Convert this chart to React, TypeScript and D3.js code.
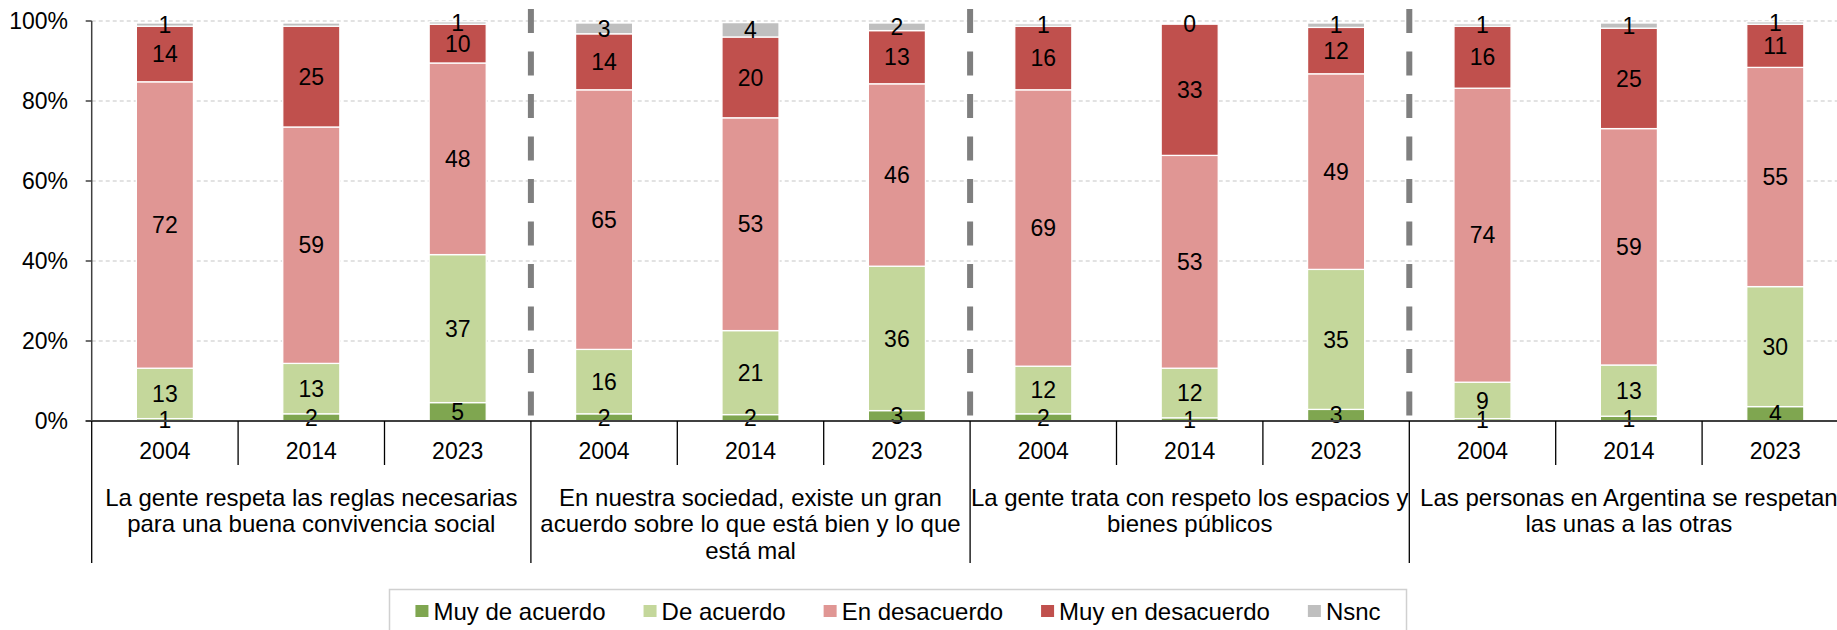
import React, { useEffect, useRef } from 'react';
import * as d3 from 'd3';

const groupLabels: string[][] = [
  ['La gente respeta las reglas necesarias', 'para una buena convivencia social'],
  ['En nuestra sociedad, existe un gran', 'acuerdo sobre lo que está bien y lo que', 'está mal'],
  ['La gente trata con respeto los espacios y', 'bienes públicos'],
  ['Las personas en Argentina se respetan', 'las unas a las otras'],
];
const years = ['2004', '2014', '2023'];
const seriesNames = ['Muy de acuerdo', 'De acuerdo', 'En desacuerdo', 'Muy en desacuerdo', 'Nsnc'];
const seriesColors = ['#7fa650', '#c4d79b', '#e09694', '#c0504d', '#bfbfbf'];
const yTicks = [0, 20, 40, 60, 80, 100];

// values per bar (4 statements x 3 years)
const muyDeAcuerdo = [0.6, 1.8, 4.6, 1.8, 1.6, 2.6, 1.8, 0.8, 2.9, 0.6, 1.2, 3.6];
const deAcuerdo = [12.6, 12.6, 37.0, 16.1, 21.0, 36.1, 11.9, 12.4, 35.0, 9.1, 12.8, 30.0];
const enDesacuerdo = [71.6, 59.1, 47.9, 64.9, 53.2, 45.6, 69.1, 53.2, 48.9, 73.5, 59.1, 54.8];
const muyEnDesacuerdo = [13.9, 25.2, 9.7, 14.0, 20.2, 13.3, 15.9, 32.8, 11.6, 15.5, 25.1, 10.8];
const nsnc = [0.8, 0.8, 0.6, 2.7, 3.6, 1.9, 0.6, 0, 1.1, 0.6, 1.3, 0.6];
const nsncLabelShown = [true, false, true, true, true, true, true, true, true, true, true, true];

const W = 1837;
const H = 630;
const FONT = '"Liberation Sans", Arial, Helvetica, sans-serif';
const FS_NUM = 23;
const FS_TXT = 24;

export default function App() {
  const ref = useRef<SVGSVGElement | null>(null);

  useEffect(() => {
    const svg = d3.select(ref.current);
    svg.selectAll('*').remove();

    const x0 = 91.7;
    const step = 146.4;
    const nBars = groupLabels.length * years.length;
    const x1 = x0 + step * nBars;
    const yBottom = 421;
    const yTop = 21;

    const barIds = d3.range(nBars).map(String);
    const x = d3.scaleBand<string>().domain(barIds).range([x0, x1]).paddingInner(0.61).paddingOuter(0.305);
    const y = d3.scaleLinear().domain([0, 100]).range([yBottom, yTop]);

    const seriesData = [muyDeAcuerdo, deAcuerdo, enDesacuerdo, muyEnDesacuerdo, nsnc];
    const rows = d3.range(nBars).map((i) => {
      const r: any = { id: String(i) };
      seriesNames.forEach((s, k) => (r[s] = seriesData[k][i]));
      return r;
    });
    const stacked = d3.stack<any>().keys(seriesNames)(rows);

    // gridlines
    svg.append('g')
      .selectAll('line')
      .data(yTicks.filter((t) => t > 0))
      .join('line')
      .attr('x1', x0)
      .attr('x2', W)
      .attr('y1', (d) => y(d))
      .attr('y2', (d) => y(d))
      .attr('stroke', '#d9d9d9')
      .attr('stroke-width', 1.5)
      .attr('stroke-dasharray', '4 3');

    // bars
    stacked.forEach((layer, k) => {
      svg.append('g')
        .selectAll('rect')
        .data(layer)
        .join('rect')
        .attr('x', (d: any) => x(d.data.id)!)
        .attr('width', x.bandwidth())
        .attr('y', (d: any) => y(d[1]))
        .attr('height', (d: any) => Math.max(0, y(d[0]) - y(d[1])))
        .attr('fill', seriesColors[k])
        .attr('stroke', '#ffffff')
        .attr('stroke-width', (d: any) => (d[1] - d[0] > 0 ? 1.3 : 0));
    });

    // value labels
    stacked.forEach((layer, k) => {
      svg.append('g')
        .selectAll('text')
        .data(layer.filter((d: any, i: number) => k !== 4 || nsncLabelShown[i]))
        .join('text')
        .attr('x', (d: any) => x(d.data.id)! + x.bandwidth() / 2)
        .attr('y', (d: any) => y((d[0] + d[1]) / 2))
        .attr('dy', '0.36em')
        .attr('text-anchor', 'middle')
        .attr('font-family', FONT)
        .attr('font-size', FS_NUM)
        .attr('fill', '#000')
        .text((d: any) => String(Math.round(d[1] - d[0])));
    });

    // dashed group separators
    svg.append('g')
      .selectAll('line')
      .data(d3.range(1, groupLabels.length))
      .join('line')
      .attr('x1', (g) => x0 + g * years.length * step)
      .attr('x2', (g) => x0 + g * years.length * step)
      .attr('y1', 9)
      .attr('y2', 417)
      .attr('stroke', '#7f7f7f')
      .attr('stroke-width', 6)
      .attr('stroke-dasharray', '24 18.5');

    // y axis
    svg.append('line')
      .attr('x1', x0).attr('x2', x0).attr('y1', yTop).attr('y2', yBottom)
      .attr('stroke', '#404040').attr('stroke-width', 1.5);
    svg.append('g')
      .selectAll('line')
      .data(yTicks)
      .join('line')
      .attr('x1', x0 - 6).attr('x2', x0)
      .attr('y1', (d) => y(d)).attr('y2', (d) => y(d))
      .attr('stroke', '#404040').attr('stroke-width', 1.5);
    svg.append('g')
      .selectAll('text')
      .data(yTicks)
      .join('text')
      .attr('x', 68)
      .attr('y', (d) => y(d))
      .attr('dy', '0.36em')
      .attr('text-anchor', 'end')
      .attr('font-family', FONT)
      .attr('font-size', FS_NUM)
      .attr('fill', '#000')
      .text((d) => `${d}%`);

    // x axis line
    svg.append('line')
      .attr('x1', x0 - 6).attr('x2', W).attr('y1', yBottom).attr('y2', yBottom)
      .attr('stroke', '#404040').attr('stroke-width', 2);

    // category ticks
    svg.append('g')
      .selectAll('line')
      .data(d3.range(nBars + 1))
      .join('line')
      .attr('x1', (i) => x0 + i * step)
      .attr('x2', (i) => x0 + i * step)
      .attr('y1', yBottom)
      .attr('y2', (i) => (i % years.length === 0 ? 563 : 465))
      .attr('stroke', '#000')
      .attr('stroke-width', 1.3);

    // year labels
    svg.append('g')
      .selectAll('text')
      .data(rows)
      .join('text')
      .attr('x', (d: any) => x(d.id)! + x.bandwidth() / 2)
      .attr('y', 451)
      .attr('dy', '0.36em')
      .attr('text-anchor', 'middle')
      .attr('font-family', FONT)
      .attr('font-size', FS_NUM)
      .attr('fill', '#000')
      .text((d: any) => years[+d.id % years.length]);

    // group labels
    groupLabels.forEach((lines, g) => {
      const cx = x0 + (g * years.length + years.length / 2) * step;
      svg.append('g')
        .selectAll('text')
        .data(lines)
        .join('text')
        .attr('x', cx)
        .attr('y', (_, j) => 497 + j * 26.7)
        .attr('dy', '0.36em')
        .attr('text-anchor', 'middle')
        .attr('font-family', FONT)
        .attr('font-size', FS_TXT)
        .attr('fill', '#000')
        .text((d) => d);
    });

    // legend
    const boxX = 389.5, boxW = 1017, boxY = 589.5;
    svg.append('rect')
      .attr('x', boxX).attr('y', boxY).attr('width', boxW).attr('height', 60)
      .attr('fill', '#fff').attr('stroke', '#d0d0d0').attr('stroke-width', 1.5);
    const lg = svg.append('g');
    const items = seriesNames.map((name, k) => {
      const gi = lg.append('g');
      gi.append('rect')
        .attr('width', 13).attr('height', 12).attr('y', -6)
        .attr('fill', seriesColors[k]);
      const t = gi.append('text')
        .attr('x', 18)
        .attr('dy', '0.36em')
        .attr('font-family', FONT)
        .attr('font-size', FS_TXT)
        .attr('fill', '#000')
        .text(name);
      const w = 18 + (t.node() as SVGTextElement).getComputedTextLength();
      return { gi, w };
    });
    const gap = 38;
    const total = d3.sum(items, (d) => d.w) + gap * (items.length - 1);
    let cur = boxX + (boxW - total) / 2;
    items.forEach((it) => {
      it.gi.attr('transform', `translate(${cur},611)`);
      cur += it.w + gap;
    });
  }, []);

  return (
    <svg
      ref={ref}
      width={W}
      height={H}
      style={{ position: 'absolute', left: 0, top: 0, background: '#fff' }}
    />
  );
}
